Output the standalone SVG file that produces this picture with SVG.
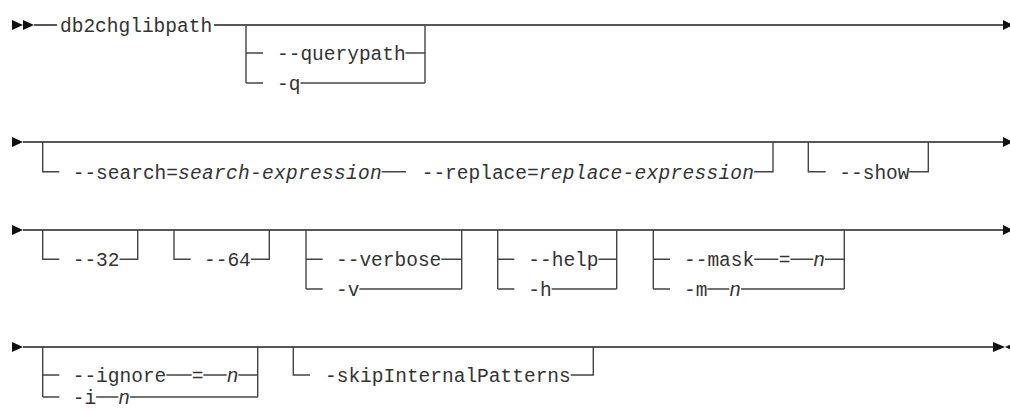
<svg xmlns="http://www.w3.org/2000/svg" width="1010" height="410" viewBox="0 0 1010 410">
<style>
  .t{font-family:"Liberation Mono","DejaVu Sans Mono",monospace;font-size:19.5px;fill:#333}
  .i{font-style:italic}
  .m{stroke:#222;stroke-width:1.5;fill:none}
  .b{stroke:#444;stroke-width:1.4;fill:none}
  .a{fill:#111}
</style>
<rect width="1010" height="410" fill="#fff"/>
<g id="connectors">
  <!-- main lines -->
  <path class="m" d="M34 25H57M214 25H1003M23 142H1003M23 230H1003M23 347H993"/>
  <polygon class="a" points="12,20 23,25 12,30"/>
  <polygon class="a" points="23,20 34,25 23,30"/>
  <polygon class="a" points="1003,20 1013,25 1003,30"/>
  <polygon class="a" points="12,137 23,142 12,147"/>
  <polygon class="a" points="1003,137 1013,142 1003,147"/>
  <polygon class="a" points="12,225 23,230 12,235"/>
  <polygon class="a" points="1003,225 1013,230 1003,235"/>
  <polygon class="a" points="12,342 23,347 12,352"/>
  <polygon class="a" points="993,342 1005,347 993,352"/>
  <polygon class="a" points="1016,342 1005,347 1016,352"/>
  <!-- row 1 choice -->
  <path class="b" d="M246 25V83M246 53H263M246 83H263M405.5 53H425M300.5 83H425M425 25V83"/>
  <!-- row 2 -->
  <path class="b" d="M42.7 142V171.7H59.3M381.7 171.7H406M754 171.7H773V142"/>
  <path class="b" d="M808.3 142V171.7H825.7M909.3 171.7H928.3V142"/>
  <!-- row 3 -->
  <path class="b" d="M42.7 230V259.3H59.3M119.5 259.3H137.7V230"/>
  <path class="b" d="M174 230V259.3H190.7M250.8 259.3H269.3V230"/>
  <path class="b" d="M306 230V289M306 259.3H322.7M306 289H322.7M441.3 259.3H461.7M359.4 289H461.7M461.7 230V289"/>
  <path class="b" d="M497.7 230V289M497.7 259.3H514.3M497.7 289H514.3M598.5 259.3H616.7M551.7 289H616.7M616.7 230V289"/>
  <path class="b" d="M653.3 230V289M653.3 259.3H670M653.3 289H670M754.2 259.3H778.3M790.4 259.3H813.3M825 259.3H844.3M707.4 289H729.3M741 289H844.3M844.3 230V289"/>
  <!-- row 4 -->
  <path class="b" d="M42.7 347V397M42.7 375H59.3M42.7 397H59.3M166.3 375H191.7M203.4 375H226.7M238.4 375H257.7M96.1 397H118.3M130 397H257.7M257.7 347V397"/>
  <path class="b" d="M293.3 347V375H310M570.7 375H593.3V347"/>
</g>
<g id="cmd"><text class="t" x="60" y="32">db2chglibpath</text></g>
<g id="querypath"><text class="t" x="277" y="60">--querypath</text><text class="t" x="277" y="90">-q</text></g>
<g id="search"><text class="t" x="72.7" y="178.7">--search=<tspan class="i" textLength="203.7" lengthAdjust="spacing">search-expression</tspan></text></g>
<g id="replace"><text class="t" x="421.7" y="178.7">--replace=<tspan class="i" textLength="215.3" lengthAdjust="spacing">replace-expression</tspan></text></g>
<g id="show"><text class="t" x="839.3" y="178.7">--show</text></g>
<g id="opt32"><text class="t" x="72.7" y="266.3">--32</text></g>
<g id="opt64"><text class="t" x="204" y="266.3">--64</text></g>
<g id="verbose"><text class="t" x="336" y="266.3">--verbose</text><text class="t" x="336" y="296">-v</text></g>
<g id="help"><text class="t" x="528.3" y="266.3">--help</text><text class="t" x="528.3" y="296">-h</text></g>
<g id="mask"><text class="t" x="684" y="266.3">--mask</text><text class="t" x="778.7" y="266.3">=</text><text class="t i" x="813.3" y="266.3">n</text><text class="t" x="684" y="296">-m</text><text class="t i" x="729.3" y="296">n</text></g>
<g id="ignore"><text class="t" x="72.7" y="382">--ignore</text><text class="t" x="191.7" y="382">=</text><text class="t i" x="226.7" y="382">n</text><text class="t" x="72.7" y="404">-i</text><text class="t i" x="118.3" y="404">n</text></g>
<g id="skip"><text class="t" x="325" y="382">-skipInternalPatterns</text></g>
</svg>
